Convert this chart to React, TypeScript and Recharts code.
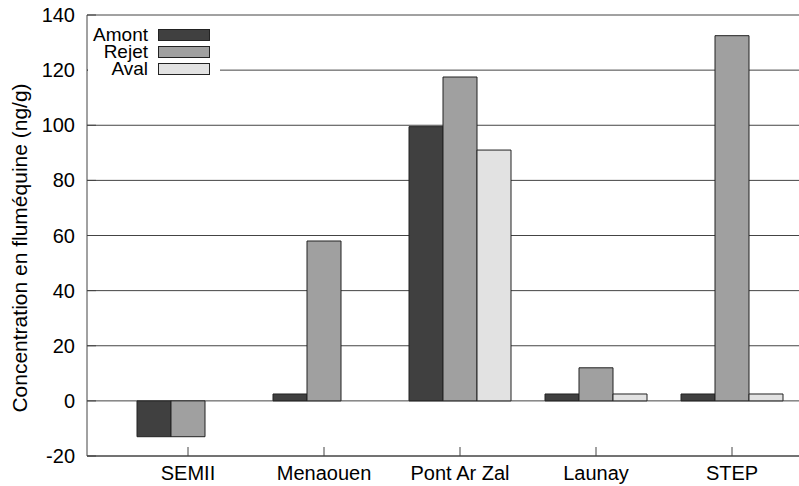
import { Bar, BarChart, CartesianGrid, Legend, XAxis, YAxis } from 'recharts';

// Flumequine concentrations per site (ng/g)
const sites = ['SEMII', 'Menaouen', 'Pont Ar Zal', 'Launay', 'STEP'];
const amont = [-13, 2.5, 99.5, 2.5, 2.5];
const rejet = [-13, 58, 117.5, 12, 132.5];
const aval = [null, null, 91, 2.5, 2.5];
const yTicks = [-20, 0, 20, 40, 60, 80, 100, 120, 140];

const series = [
  { key: 'amont', name: 'Amont', color: '#404040' },
  { key: 'rejet', name: 'Rejet', color: '#a0a0a0' },
  { key: 'aval', name: 'Aval', color: '#e2e2e2' },
];

const data = sites.map((site, i) => ({
  site,
  amont: amont[i],
  rejet: rejet[i],
  aval: aval[i],
}));

const font = '"Liberation Sans", Arial, sans-serif';

function KeyBox() {
  return (
    <div style={{ background: '#fff', width: 132, paddingTop: 10, paddingBottom: 4 }}>
      {series.map((s) => (
        <div key={s.key} style={{ display: 'flex', alignItems: 'center', height: 17 }}>
          <span
            style={{
              width: 60,
              textAlign: 'right',
              fontFamily: font,
              fontSize: 19,
              lineHeight: '17px',
              color: '#000',
            }}
          >
            {s.name}
          </span>
          <span
            style={{
              marginLeft: 10,
              width: 50,
              height: 10,
              background: s.color,
              border: '1px solid #222',
            }}
          />
        </div>
      ))}
    </div>
  );
}

export default function App() {
  return (
    <div style={{ position: 'absolute', left: 0, top: 0, width: 799, height: 486, overflow: 'hidden', background: '#fff' }}>
      <BarChart
        width={840}
        height={486}
        data={data}
        margin={{ top: 15, right: 7, bottom: 0, left: 0 }}
        barSize={34}
        barGap={0}
      >
        <CartesianGrid vertical={false} stroke="#444" strokeWidth={1} />
        <XAxis
          dataKey="site"
          height={30}
          padding={{ left: 33, right: 33 }}
          stroke="#444"
          tickSize={-9}
          tickMargin={19}
          tick={{ fill: '#000', fontSize: 20, fontFamily: font }}
          interval={0}
        />
        <XAxis
          xAxisId="top"
          dataKey="site"
          orientation="top"
          height={0}
          padding={{ left: 33, right: 33 }}
          stroke="#444"
          tickSize={-9}
          tick={false}
        />
        <YAxis
          width={87}
          domain={[-20, 140]}
          ticks={yTicks}
          stroke="#444"
          tickSize={-9}
          tickMargin={21}
          tick={{ fill: '#000', fontSize: 20, fontFamily: font }}
          label={{
            content: () => (
              <text
                x={0}
                y={0}
                transform="translate(27, 248) rotate(-90)"
                textAnchor="middle"
                fontFamily={font}
                fontSize={21}
                fill="#000"
              >
                Concentration en fluméquine (ng/g)
              </text>
            ),
          }}
        />
        <Legend
          verticalAlign="middle"
          content={() => <KeyBox />}
          wrapperStyle={{ left: 88, top: 16, width: 132 }}
        />
        {series.map((s) => (
          <Bar
            key={s.key}
            dataKey={s.key}
            name={s.name}
            fill={s.color}
            stroke="#222"
            strokeWidth={1}
            isAnimationActive={false}
          />
        ))}
      </BarChart>
    </div>
  );
}
